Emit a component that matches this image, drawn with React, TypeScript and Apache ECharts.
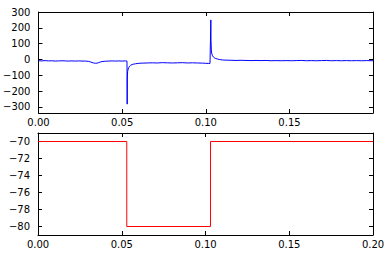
import React, { useEffect, useRef } from 'react';
import * as echarts from 'echarts';

// Top panel: recorded trace (time in s, value)
const traceTimes = [
  0.000, 0.002, 0.004, 0.006, 0.008, 0.010, 0.012, 0.014, 0.016, 0.018,
  0.020, 0.022, 0.024, 0.026, 0.028, 0.030, 0.031, 0.032, 0.033, 0.034,
  0.035, 0.036, 0.037, 0.038, 0.040, 0.042, 0.044, 0.046, 0.048, 0.050,
  0.052, 0.0529, 0.0530, 0.0531, 0.0533, 0.0536, 0.0540, 0.0545, 0.0550, 0.0560,
  0.0570, 0.0580, 0.0600, 0.0620, 0.0650, 0.0680, 0.0710, 0.0740, 0.0770, 0.0800,
  0.0830, 0.0860, 0.0890, 0.0920, 0.0950, 0.0980, 0.1000, 0.1015, 0.1025, 0.1029,
  0.1030, 0.1031, 0.1033, 0.1036, 0.1040, 0.1045, 0.1050, 0.1060, 0.1070, 0.1080,
  0.1100, 0.1120, 0.1150, 0.1180, 0.1210, 0.1240, 0.1270, 0.1300, 0.1330, 0.1360,
  0.1390, 0.1420, 0.1450, 0.1480, 0.1510, 0.1540, 0.1570, 0.1600, 0.1630, 0.1660,
  0.1690, 0.1720, 0.1750, 0.1780, 0.1810, 0.1840, 0.1870, 0.1900, 0.1930, 0.1960,
  0.1999,
];
const traceValues = [
  -8, -9, -7, -9, -8, -10, -9, -8, -9, -10,
  -9, -10, -9, -10, -10, -12, -15, -19, -22, -24,
  -23, -20, -16, -13, -11, -10, -9, -10, -9, -10,
  -9, -10, -282, -110, -75, -60, -50, -42, -37, -32,
  -29, -27, -24, -23, -22, -21, -22, -20, -21, -22,
  -21, -20, -22, -21, -22, -23, -24, -25, -25, -24,
  250, 120, 60, 35, 24, 16, 11, 6, 3, 0,
  -3, -4, -5, -6, -5, -6, -7, -6, -7, -6,
  -8, -7, -8, -7, -8, -7, -6, -8, -7, -8,
  -7, -6, -8, -7, -8, -7, -8, -7, -8, -7,
  -8,
];

// Bottom panel: command step (time in s, value)
const stepTimes = [0, 0.053, 0.103, 0.2];
const stepValues = [-70, -80, -70, -70];

// Tick values
const topXTicks = [0, 0.05, 0.1, 0.15];
const topYTicks = [-300, -200, -100, 0, 100, 200, 300];
const bottomXTicks = [0, 0.05, 0.1, 0.15, 0.2];
const bottomYTicks = [-80, -78, -76, -74, -72, -70];

const FONT = 'DejaVu Sans';
const fmtX = (v: number) => v.toFixed(2);
const fmtY = (v: number) => String(Math.round(v)).replace('-', '\u2212');

function xAx(grid: number, pos: 'top' | 'bottom', max: number, ticks: number[], showLabel: boolean) {
  return {
    type: 'value',
    gridIndex: grid,
    position: pos,
    min: 0,
    max,
    axisLine: { show: true, onZero: false, lineStyle: { color: '#000', width: 1 } },
    axisTick: { show: true, inside: true, length: 4, customValues: ticks, lineStyle: { color: '#000', width: 1 } },
    axisLabel: {
      show: showLabel,
      customValues: ticks,
      formatter: fmtX,
      fontFamily: FONT,
      fontSize: 10,
      color: '#000',
      margin: 4,
    },
    splitLine: { show: false },
  };
}

function yAx(grid: number, pos: 'left' | 'right', min: number, max: number, ticks: number[], showLabel: boolean) {
  return {
    type: 'value',
    gridIndex: grid,
    position: pos,
    min,
    max,
    axisLine: { show: true, onZero: false, lineStyle: { color: '#000', width: 1 } },
    axisTick: { show: true, inside: true, length: 4, customValues: ticks, lineStyle: { color: '#000', width: 1 } },
    axisLabel: {
      show: showLabel,
      customValues: ticks,
      formatter: fmtY,
      fontFamily: FONT,
      fontSize: 10,
      color: '#000',
      margin: 8,
    },
    splitLine: { show: false },
  };
}

export default function App() {
  const ref = useRef<HTMLDivElement>(null);
  useEffect(() => {
    if (!ref.current) return;
    const chart = echarts.init(ref.current, undefined, { renderer: 'svg' });
    const traceData = traceTimes.map((t, i) => [t, traceValues[i]]);
    const stepData = stepTimes.map((t, i) => [t, stepValues[i]]);
    chart.setOption({
      animation: false,
      backgroundColor: '#fff',
      grid: [
        { left: 38, top: 12, width: 335, height: 101 },
        { left: 38, top: 133, width: 335, height: 102 },
      ],
      xAxis: [
        xAx(0, 'bottom', 0.1999, topXTicks, true),
        xAx(0, 'top', 0.1999, topXTicks, false),
        xAx(1, 'bottom', 0.2, bottomXTicks, true),
        xAx(1, 'top', 0.2, bottomXTicks, false),
      ],
      yAxis: [
        yAx(0, 'left', -338, 300, topYTicks, true),
        yAx(0, 'right', -338, 300, topYTicks, false),
        yAx(1, 'left', -81, -69, bottomYTicks, true),
        yAx(1, 'right', -81, -69, bottomYTicks, false),
      ],
      series: [
        {
          type: 'line',
          xAxisIndex: 0,
          yAxisIndex: 0,
          data: traceData,
          showSymbol: false,
          lineStyle: { color: '#0000ff', width: 1 },
          itemStyle: { color: '#0000ff' },
        },
        {
          type: 'line',
          xAxisIndex: 2,
          yAxisIndex: 2,
          data: stepData,
          step: 'end',
          showSymbol: false,
          lineStyle: { color: '#ff0000', width: 1 },
          itemStyle: { color: '#ff0000' },
        },
      ],
    });
    return () => chart.dispose();
  }, []);
  return (
    <div
      ref={ref}
      style={{ position: 'absolute', left: 0, top: 0, width: 391, height: 256 }}
    />
  );
}
